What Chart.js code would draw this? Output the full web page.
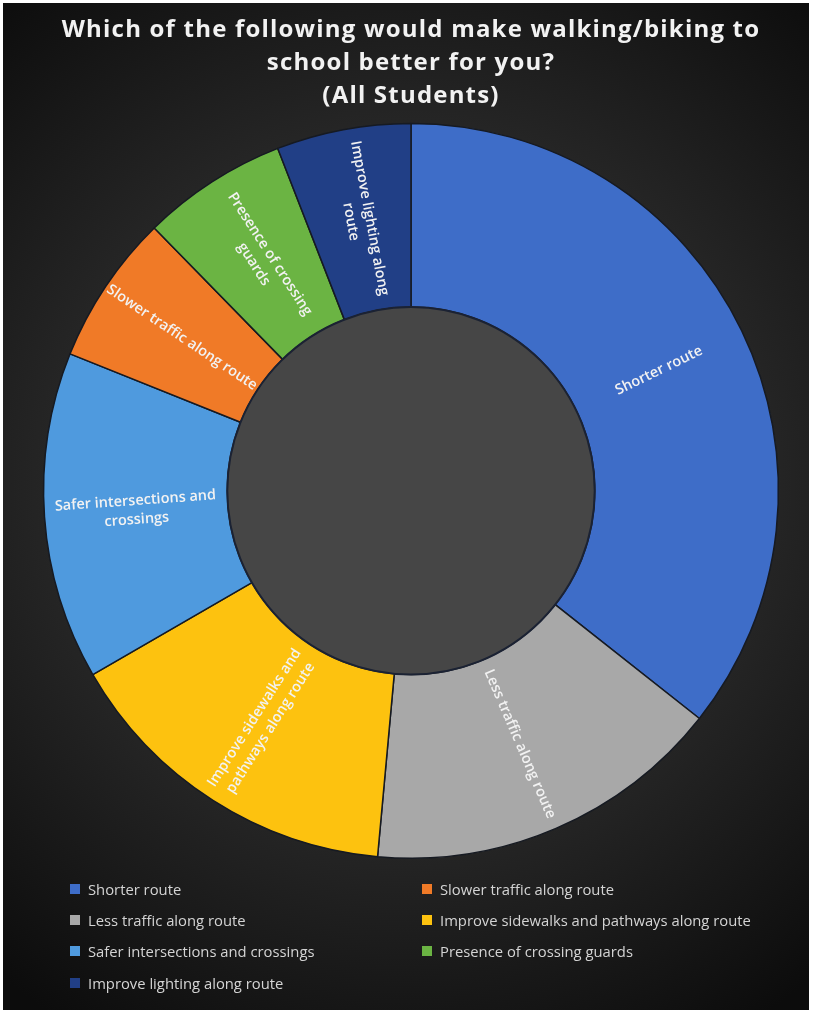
<!DOCTYPE html>
<html>
<head>
<meta charset="utf-8">
<script src="https://cdn.jsdelivr.net/npm/chart.js@4/dist/chart.umd.min.js"></script>
<style>
  html, body { margin: 0; padding: 0; background: #ffffff; }
  #wrap { position: absolute; left: 3px; top: 3px; width: 806px; height: 1007px; overflow: hidden; }
  #chart { display: block; }
  #legend {
    position: absolute; left: 0; top: 870px; width: 806px;
    display: grid; grid-template-columns: 352px 380px; column-gap: 0;
    padding-left: 67px; row-gap: 0;
    font-family: "Open Sans", sans-serif; font-size: 14.8px; color: #d4d4d4;
  }
  .item { display: flex; align-items: center; height: 31.4px; }
  .sw { width: 10px; height: 10px; margin-right: 8px; flex: none; }
</style>
</head>
<body>
<div id="wrap">
  <canvas id="chart" width="806" height="1007"></canvas>
  <div id="legend"></div>
</div>
<script>
// Survey answers, clockwise from 12 o'clock (percent of all students)
const categories = [
  "Shorter route",
  "Less traffic along route",
  "Improve sidewalks and pathways along route",
  "Safer intersections and crossings",
  "Slower traffic along route",
  "Presence of crossing guards",
  "Improve lighting along route"
];
const shares = [35.6, 15.8, 15.2, 14.4, 6.6, 6.4, 5.9];
const sliceColors = ["#3e6dc8", "#a8a8a8", "#fdc20f", "#4f9ade", "#f07a27", "#6bb443", "#213f86"];
// Wrapped text printed inside each slice
const sliceLabelLines = [
  ["Shorter route"],
  ["Less traffic along route"],
  ["Improve sidewalks and", "pathways along route"],
  ["Safer intersections and", "crossings"],
  ["Slower traffic along route"],
  ["Presence of crossing", "guards"],
  ["Improve lighting along", "route"]
];
// Legend reads across two columns
const legendOrder = [0, 4, 1, 2, 3, 5, 6];
const titleLines = [
  "Which of the following would make walking/biking to",
  "school better for you?",
  "(All Students)"
];

const backdrop = {
  id: "backdrop",
  beforeDraw(chart) {
    const { ctx, width, height } = chart;
    ctx.save();
    const g = ctx.createRadialGradient(405, 480, 0, 405, 480, 640);
    g.addColorStop(0, "#3c3c3c");
    g.addColorStop(0.55, "#262626");
    g.addColorStop(1, "#0c0c0c");
    ctx.fillStyle = g;
    ctx.fillRect(0, 0, width, height);
    ctx.restore();
    // the title is drawn next with a little extra tracking
    ctx.letterSpacing = "1.2px";
  },
  beforeDatasetsDraw(chart) {
    chart.ctx.letterSpacing = "0px";
  }
};

const holeAndLabels = {
  id: "holeAndLabels",
  afterDatasetsDraw(chart) {
    const { ctx } = chart;
    const arcs = chart.getDatasetMeta(0).data;
    if (!arcs.length) return;
    const a0 = arcs[0];
    ctx.save();
    // center hole
    ctx.beginPath();
    ctx.arc(a0.x, a0.y, a0.innerRadius, 0, Math.PI * 2);
    ctx.fillStyle = "#464646";
    ctx.fill();
    ctx.lineWidth = 2;
    ctx.strokeStyle = "#1b2233";
    ctx.stroke();
    // radial slice labels
    ctx.fillStyle = "#f2f2f2";
    ctx.font = "600 14.5px 'Open Sans', sans-serif";
    ctx.textAlign = "center";
    ctx.textBaseline = "middle";
    arcs.forEach((arc, i) => {
      const mid = (arc.startAngle + arc.endAngle) / 2;
      const r = (arc.innerRadius + arc.outerRadius) / 2;
      const cx = arc.x + Math.cos(mid) * r;
      const cy = arc.y + Math.sin(mid) * r;
      let a = Math.atan2(Math.sin(mid), Math.cos(mid));
      if (a > Math.PI / 2 || a < -Math.PI / 2) a -= Math.PI;
      const lines = sliceLabelLines[i];
      const lh = 19;
      ctx.save();
      ctx.translate(cx, cy);
      ctx.rotate(a);
      lines.forEach((t, k) => {
        ctx.fillText(t, 0, (k - (lines.length - 1) / 2) * lh);
      });
      ctx.restore();
    });
    ctx.restore();
  }
};

const chart = new Chart(document.getElementById("chart"), {
  type: "doughnut",
  data: {
    labels: categories,
    datasets: [{
      data: shares,
      backgroundColor: sliceColors,
      borderColor: "#161a22",
      borderWidth: 1.5
    }]
  },
  options: {
    responsive: false,
    animation: false,
    cutout: "50%",
    layout: { padding: { top: 11, bottom: 151, left: 10, right: 0 } },
    plugins: {
      legend: { display: false },
      tooltip: { enabled: false },
      title: {
        display: true,
        text: titleLines,
        color: "#f2f2f2",
        font: { family: "'Open Sans', sans-serif", size: 24, weight: "bold", lineHeight: 1.37 },
        padding: { top: 0, bottom: 10 }
      }
    }
  },
  plugins: [backdrop, holeAndLabels]
});

// legend built from the chart's own data
const legendEl = document.getElementById("legend");
legendOrder.forEach(i => {
  const item = document.createElement("div");
  item.className = "item";
  const sw = document.createElement("span");
  sw.className = "sw";
  sw.style.background = chart.data.datasets[0].backgroundColor[i];
  const tx = document.createElement("span");
  tx.textContent = chart.data.labels[i];
  item.appendChild(sw);
  item.appendChild(tx);
  legendEl.appendChild(item);
});
</script>
</body>
</html>
